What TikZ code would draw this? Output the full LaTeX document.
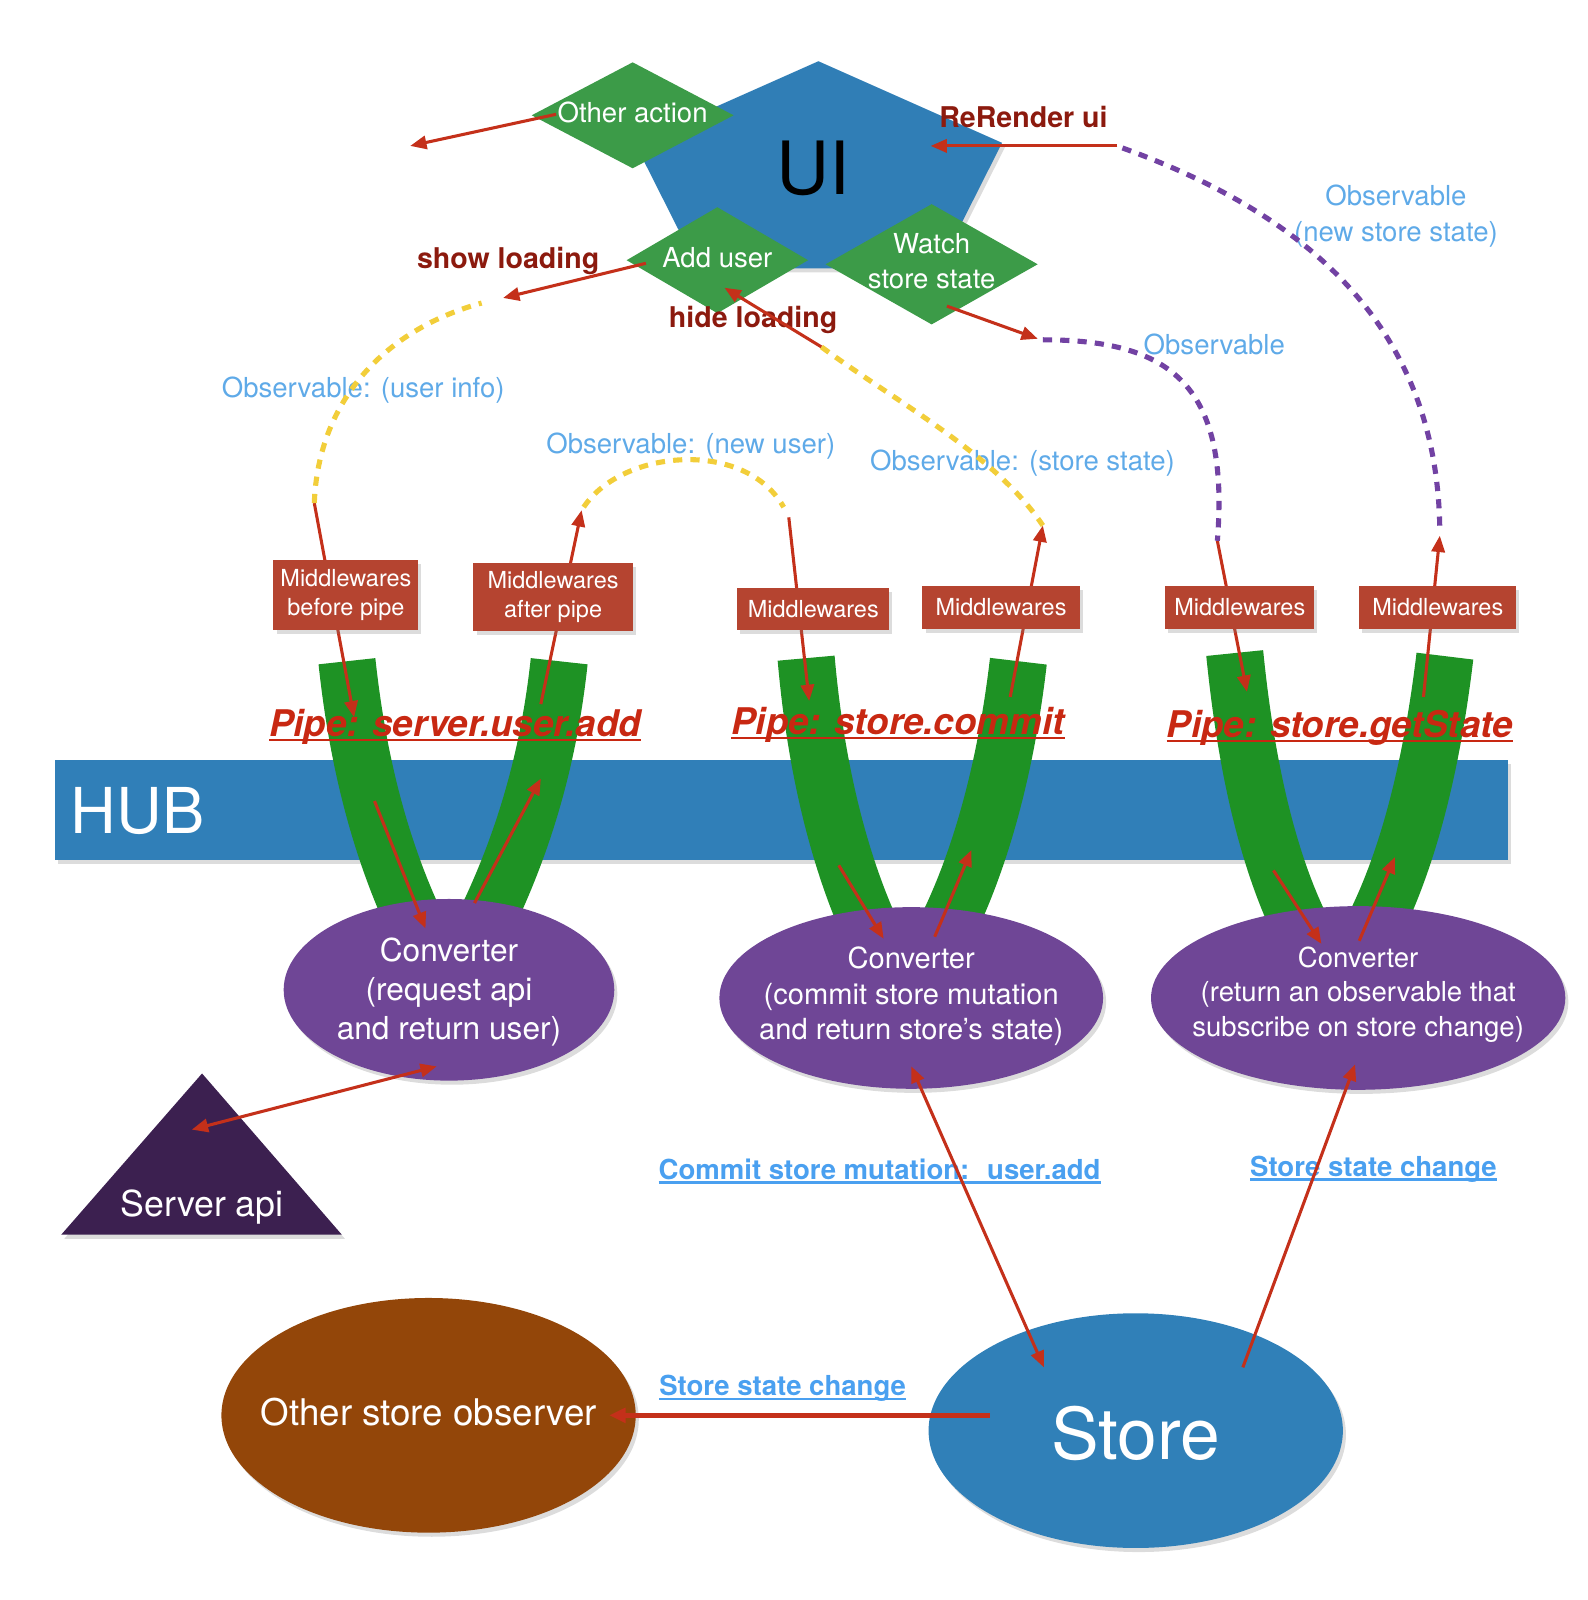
\documentclass[tikz,border=0pt]{standalone}
\usepackage{fontspec}
\setmainfont{TeX Gyre Heros}
\usetikzlibrary{arrows.meta,shapes.geometric,shadows}
\definecolor{uiblue}{RGB}{48,126,182}
\definecolor{dgreen}{RGB}{60,155,72}
\definecolor{pgreen}{RGB}{30,146,36}
\definecolor{mwred}{RGB}{181,68,48}
\definecolor{cvpurple}{RGB}{111,70,150}
\definecolor{svpurple}{RGB}{60,32,80}
\definecolor{stblue}{RGB}{48,128,184}
\definecolor{obbrown}{RGB}{147,70,9}
\definecolor{hubblue}{RGB}{48,127,184}
\definecolor{arrred}{RGB}{196,48,26}
\definecolor{lblred}{RGB}{140,26,14}
\definecolor{pipered}{RGB}{200,40,18}
\definecolor{obsblue}{RGB}{95,170,232}
\definecolor{lnkblue}{RGB}{74,160,240}
\definecolor{dyellow}{RGB}{242,206,58}
\definecolor{dpurple}{RGB}{114,66,163}
\newcommand\myfs[2]{\fontsize{#1}{#2}\selectfont}
\newcommand\ctext[1]{\makebox[0pt]{\begin{tabular}{@{}c@{}}#1\end{tabular}}}
\newcommand\myul[3]{\setbox0=\hbox{#3}\leavevmode\rlap{\smash{\rule[-#1]{\wd0}{#2}}}\box0}
\begin{document}
\begin{tikzpicture}[x=1pt,y=-1pt,
  arr/.style={draw=arrred, line width=3pt, -{Triangle[length=16pt,width=13pt]}},
  darr/.style={draw=arrred, line width=3pt, {Triangle[length=16pt,width=13pt]}-{Triangle[length=16pt,width=13pt]}},
  ydash/.style={draw=dyellow, line width=5pt, dash pattern=on 9pt off 8pt},
  pdash/.style={draw=dpurple, line width=5pt, dash pattern=on 9pt off 8pt},
  pipe/.style={draw=pgreen, line width=56pt},
  shd/.style={drop shadow={shadow xshift=3pt, shadow yshift=-4pt, opacity=0.28}},
  dmd/.style={diamond, fill=dgreen, inner sep=0pt, text=white, font=\myfs{27}{34}},
  mw/.style={rectangle, fill=mwred, inner sep=0pt, text=white, align=center, font=\myfs{23}{28}, shd},
  cv/.style={ellipse, fill=cvpurple, inner sep=0pt, shd},
  wtxt/.style={text=white, inner sep=0pt},
  obs/.style={text=obsblue, font=\myfs{27}{35}, align=center, inner sep=0pt},
  act/.style={text=lblred, font=\bfseries\myfs{28}{34}, inner sep=0pt},
  pipelbl/.style={text=pipered, font=\bfseries\itshape\myfs{36}{40}, inner sep=0pt},
  lnk/.style={text=lnkblue, font=\bfseries\myfs{27}{32}, inner sep=0pt},
]
\useasboundingbox (0,0) rectangle (1555.3,1568);

% ---------- coordinates ----------
\coordinate (oaS) at (545,112);  \coordinate (oaE) at (402,143);
\coordinate (auS) at (633,258);  \coordinate (auE) at (493,292);
\coordinate (hlS) at (805,340);  \coordinate (hlE) at (710,282);
\coordinate (rrS) at (1095,143); \coordinate (rrE) at (912,143);
\coordinate (wsS) at (928,300);  \coordinate (wsE) at (1017,332);
\coordinate (y1e) at (472,297);
\coordinate (m1a) at (308,493);  \coordinate (m1b) at (347,703);
\coordinate (m2a) at (530,690);  \coordinate (m2b) at (570,500);
\coordinate (m3a) at (773,507);  \coordinate (m3b) at (793,687);
\coordinate (m4a) at (990,683);  \coordinate (m4b) at (1022,515);
\coordinate (m5a) at (1193,530); \coordinate (m5b) at (1222,678);
\coordinate (m6a) at (1395,683); \coordinate (m6b) at (1411,525);
\coordinate (y2a) at (572,497);  \coordinate (y2b) at (768,497);
\coordinate (p1a) at (1022,333); \coordinate (p2a) at (1100,145);
\coordinate (p2b) at (1411,522);
\coordinate (q1a) at (367,785);  \coordinate (q1b) at (417,910);
\coordinate (q2a) at (465,885);  \coordinate (q2b) at (530,763);
\coordinate (q3a) at (822,848);  \coordinate (q3b) at (866,920);
\coordinate (q4a) at (916,918);  \coordinate (q4b) at (952,833);
\coordinate (q5a) at (1248,853); \coordinate (q5b) at (1295,925);
\coordinate (q6a) at (1332,922); \coordinate (q6b) at (1367,840);
\coordinate (sv) at (188,1107);  \coordinate (cv1b) at (428,1045);
\coordinate (cv2b) at (893,1045); \coordinate (stA) at (1023,1340);
\coordinate (stB) at (1218,1340); \coordinate (cv3b) at (1328,1043);
\coordinate (stL) at (970,1387);  \coordinate (obR) at (597,1387);

% ---------- HUB ----------
\node[rectangle, fill=hubblue, minimum width=1424pt, minimum height=98pt, inner sep=0pt, shd, anchor=north west] (hub) at (54,745) {};
\node[wtxt, font=\myfs{62}{70}] (hubt) at (135,795) {HUB};

% ---------- pipes ----------
\draw[pipe] (340,648) .. controls (352,760) and (378,845) .. (412,915);
\draw[pipe] (548,648) .. controls (536,760) and (505,845) .. (470,915);
\draw[pipe] (790,645) .. controls (800,760) and (825,850) .. (855,915);
\draw[pipe] (998,648) .. controls (985,760) and (958,850) .. (925,915);
\draw[pipe] (1210,640) .. controls (1222,760) and (1245,850) .. (1278,915);
\draw[pipe] (1416,643) .. controls (1402,760) and (1377,850) .. (1343,915);

\node[pipelbl] (pl1) at (446,712) {\myul{5pt}{2.6pt}{Pipe: server.user.add}};
\node[pipelbl] (pl2) at (880,710) {\myul{5pt}{2.6pt}{Pipe: store.commit}};
\node[pipelbl] (pl3) at (1313,713) {\myul{5pt}{2.6pt}{Pipe: store.getState}};

% ---------- converters ----------
\node[cv, minimum width=324pt, minimum height=178pt] (cv1) at (440,970) {};
\node[cv, minimum width=376pt, minimum height=178pt] (cv2) at (893,978) {};
\node[cv, minimum width=406pt, minimum height=180pt] (cv3) at (1331,978) {};
\node[wtxt, font=\myfs{31}{38}] (cv1t) at (440,973) {\ctext{Converter\\(request api\\and return user)}};
\node[wtxt, font=\myfs{28.5}{35}] (cv2t) at (893,977) {\ctext{Converter\\(commit store mutation\\and return store’s state)}};
\node[wtxt, font=\myfs{27}{34}] (cv3t) at (1331,975) {\ctext{Converter\\(return an observable that\\subscribe on store change)}};

% ---------- middleware arrows + boxes ----------
\draw[arr] (m1a) -- (m1b);
\draw[arr] (m2a) -- (m2b);
\draw[arr] (m3a) -- (m3b);
\draw[arr] (m4a) -- (m4b);
\draw[arr] (m5a) -- (m5b);
\draw[arr] (m6a) -- (m6b);
\node[mw, minimum width=142pt, minimum height=69pt] (mw1) at (339,583) {Middlewares\\before pipe};
\node[mw, minimum width=156pt, minimum height=66pt] (mw2) at (542,585) {Middlewares\\after pipe};
\node[mw, minimum width=149pt, minimum height=41pt] (mw3) at (797,597) {Middlewares};
\node[mw, minimum width=154pt, minimum height=42pt] (mw4) at (981,595) {Middlewares};
\node[mw, minimum width=146pt, minimum height=42pt] (mw5) at (1215,595) {Middlewares};
\node[mw, minimum width=154pt, minimum height=42pt] (mw6) at (1409,595) {Middlewares};

% ---------- arrows inside pipes ----------
\draw[arr] (q1a) -- (q1b);
\draw[arr] (q2a) -- (q2b);
\draw[arr] (q3a) -- (q3b);
\draw[arr] (q4a) -- (q4b);
\draw[arr] (q5a) -- (q5b);
\draw[arr] (q6a) -- (q6b);

% ---------- UI ----------
\fill[uiblue, shd] (802,60) -- (982,140) -- (920,263) -- (684,263) -- (622,140) -- cycle;
\node[text=black, font=\myfs{72}{80}, inner sep=0pt] (ui) at (797,165) {UI};
\node[dmd, minimum width=198pt, minimum height=104pt] (oa) at (620,113) {\ctext{Other action}};
\node[dmd, minimum width=178pt, minimum height=104pt] (au) at (703,255) {\ctext{Add user}};
\node[dmd, minimum width=208pt, minimum height=118pt] (ws) at (913,259) {\ctext{Watch\\store state}};

\node[act] (lsl) at (498,256) {show loading};
\node[act] (lhl) at (738,314) {hide loading};
\node[act] (lrr) at (1003,115) {ReRender ui};

\draw[arr] (oaS) -- (oaE);
\draw[arr] (auS) -- (auE);
\draw[arr] (hlS) -- (hlE);
\draw[arr] (rrS) -- (rrE);
\draw[arr] (wsS) -- (wsE);

% ---------- observable labels ----------
\node[obs] (o1) at (356,382) {Observable: (user info)};
\node[obs] (o2) at (677,437) {Observable: (new user)};
\node[obs] (o3) at (1002,454) {Observable: (store state)};
\node[obs] (o4) at (1190,338) {Observable};
\node[obs] (o5) at (1368,212) {Observable\\(new store state)};

% ---------- dashed flows ----------
\draw[ydash] (m1a) .. controls (312,390) and (380,322) .. (y1e);
\draw[ydash] (y2a) .. controls (610,440) and (730,430) .. (y2b);
\draw[ydash] (hlS) .. controls (880,395) and (975,445) .. (m4b);
\draw[pdash] (p1a) .. controls (1150,333) and (1205,380) .. (m5a);
\draw[pdash] (p2a) .. controls (1280,210) and (1410,320) .. (p2b);

% ---------- server api ----------
\fill[svpurple, shd] (198,1052) -- (335,1210) -- (60,1210) -- cycle;
\node[wtxt, font=\myfs{35}{40}] (srv) at (198,1183) {Server api};
\draw[darr] (sv) -- (cv1b);

% ---------- store ----------
\node[ellipse, fill=obbrown, minimum width=406pt, minimum height=230pt, inner sep=0pt, shd] (ob) at (420,1387) {};
\node[wtxt, font=\myfs{36}{40}] (obt) at (420,1384) {Other store observer};
\node[ellipse, fill=stblue, minimum width=406pt, minimum height=230pt, inner sep=0pt, shd] (st) at (1113,1402) {};
\node[wtxt, font=\myfs{70}{76}] (stt) at (1113,1405) {Store};

\node[lnk] (lk1) at (862,1146) {\myul{4pt}{2.4pt}{Commit store mutation:~ user.add}};
\node[lnk] (lk2) at (1346,1146) {\myul{4pt}{2.4pt}{Store state change}};
\node[lnk] (lk3) at (767,1361) {\myul{4pt}{2.4pt}{Store state change}};

\draw[darr] (cv2b) -- (stA);
\draw[arr] (stB) -- (cv3b);
\draw[draw=arrred, line width=4.5pt, -{Triangle[length=16pt,width=14pt]}] (stL) -- (obR);
\end{tikzpicture}
\end{document}
